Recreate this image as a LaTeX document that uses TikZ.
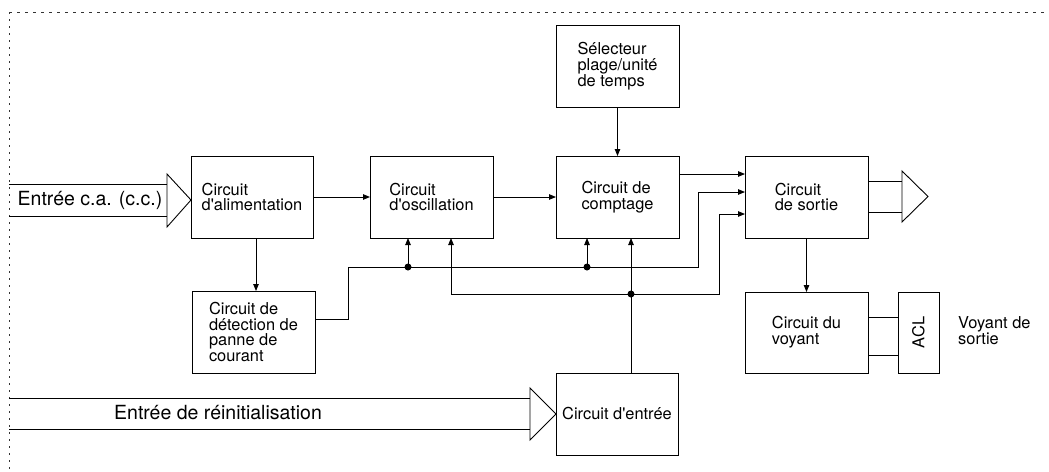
\documentclass[tikz,border=0pt]{standalone}
\usepackage{fontspec}
\setmainfont{TeX Gyre Heros}
\usepackage{graphicx}
\usetikzlibrary{arrows.meta}
\newcommand{\ap}{\textquotesingle}
\tikzset{
  box/.style={draw, line width=1pt, inner sep=0pt, outer sep=0pt, minimum width=123pt, minimum height=82pt, align=left, font=\fontsize{16.4}{15.8}\selectfont},
  conn/.style={line width=0.9pt},
  arr/.style={conn, -{Triangle[length=7pt,width=5.5pt]}},
  junc/.style={fill=black},
  bigtxt/.style={inner sep=0pt, font=\fontsize{19.5}{20}\selectfont},
  hollow/.style={line width=0.9pt},
  frame/.style={line width=0.8pt, black!80}
}
\begin{document}
\begin{tikzpicture}[x=1pt,y=-1pt]
\useasboundingbox (0,0) rectangle (1049,471);
% frame
\draw[frame, dash pattern=on 3pt off 5pt] (9,12) -- (1049,12);
\draw[frame, dash pattern=on 1.6pt off 5.4pt] (9,12) -- (9,471);

% boxes
\node[box, minimum width=122pt] (alim) at (252,197) {Circuit\\d\ap alimentation};
\node[box] (osc) at (431.5,197) {Circuit\\d\ap oscillation};
\node[box] (comp) at (617.5,197) {Circuit de\\comptage};
\node[box] (sel) at (617.5,66) {Sélecteur\\plage/unité\\de temps};
\node[box] (sortie) at (806.5,197) {Circuit\\de sortie};
\node[box, minimum height=81pt] (voy) at (806.5,332.5) {Circuit du\\voyant};
\node[box, minimum width=41pt, minimum height=81pt] (acl) at (918.5,332.5) {\rotatebox{90}{ACL}};
\node[box] (det) at (253.5,332) {Circuit de\\détection de\\panne de\\courant};
\node[box, minimum width=122pt] (ent) at (617,414) {Circuit d\ap entrée};
\node[anchor=west, align=left, inner sep=0pt, font=\fontsize{16.4}{15.8}\selectfont] (vlab) at (958,331) {Voyant de\\sortie};

% coordinates
\coordinate (a1) at (700,174);
\coordinate (b1) at (348,319);
\coordinate (b2) at (348,267);
\coordinate (b3) at (698,267);
\coordinate (b4) at (698,192);
\coordinate (j1) at (408,267);
\coordinate (j2) at (587,267);
\coordinate (j3) at (631,294);
\coordinate (c1) at (451,294);
\coordinate (c2) at (719,294);
\coordinate (c3) at (719,214);
\coordinate (v1) at (880,317);
\coordinate (v2) at (880,355);
\coordinate (d1) at (256,300);

% connectors
\draw[arr] (alim) -- (osc);
\draw[arr] (osc) -- (comp);
\draw[arr] (sel) -- (comp);
\draw[arr] (comp.east |- a1) -- (sortie.west |- a1);
\draw[arr] (alim.south -| d1) -- (det.north -| d1);
\draw[arr] (det.east |- b1) -- (b1) -- (b2) -- (b3) -- (b4) -- (sortie.west |- b4);
\draw[arr] (j1) -- (osc.south -| j1);
\draw[arr] (j2) -- (comp.south -| j2);
\draw[arr] (ent.north -| j3) -- (comp.south -| j3);
\draw[arr] (c1) -- (osc.south -| c1);
\draw[arr] (c1) -- (c2) -- (c3) -- (sortie.west |- c3);
\fill[junc] (j1) circle (3.5pt);
\fill[junc] (j2) circle (3.5pt);
\fill[junc] (j3) circle (3.5pt);
\draw[arr] (sortie) -- (voy);
\draw[conn] (voy.east |- v1) -- (acl.west |- v1);
\draw[conn] (voy.east |- v2) -- (acl.west |- v2);

% output hollow arrow
\draw[hollow] (868,181) -- (902,181);
\draw[hollow] (868,212) -- (902,212);
\draw[hollow] (902,171) -- (928,196.5) -- (902,222) -- cycle;

% AC input hollow arrow
\draw[hollow] (9,184) -- (167,184);
\draw[hollow] (9,216) -- (167,216);
\draw[hollow] (167,174) -- (alim.west |- 0,200) -- (167,227) -- cycle;
\node[bigtxt] (acin) at (90,200) {Entrée c.a. (c.c.)};

% reset input hollow arrow
\draw[hollow] (9,398) -- (530,398);
\draw[hollow] (9,429) -- (530,429);
\draw[hollow] (530,388) -- (ent.west) -- (530,440) -- cycle;
\node[bigtxt] (rst) at (218,413) {Entrée de réinitialisation};
\end{tikzpicture}
\end{document}
